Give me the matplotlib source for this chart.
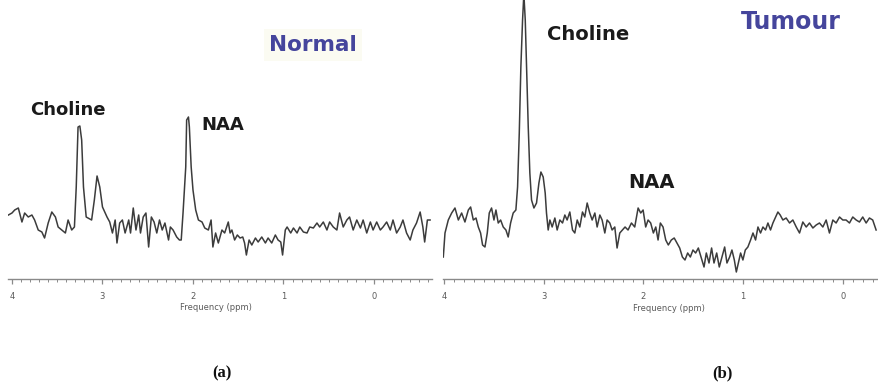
import matplotlib
matplotlib.use("Agg")
import matplotlib.pyplot as plt
from matplotlib.ticker import MultipleLocator

# ---------------- data ----------------
normal_ppm = [4.04, 4.00, 3.97, 3.93, 3.89, 3.86, 3.82, 3.78, 3.75, 3.71, 3.67, 3.64, 3.60, 3.56,
              3.52, 3.49, 3.45, 3.41, 3.38, 3.34, 3.31, 3.29, 3.27, 3.25, 3.23, 3.21, 3.18, 3.16,
              3.12, 3.09, 3.06, 3.03, 3.00, 2.97, 2.95, 2.92, 2.89, 2.86, 2.84, 2.81, 2.78, 2.75,
              2.71, 2.69, 2.66, 2.63, 2.60, 2.58, 2.55, 2.52, 2.49, 2.46, 2.43, 2.40, 2.37, 2.34,
              2.31, 2.27, 2.25, 2.22, 2.18, 2.15, 2.13, 2.11, 2.08, 2.07, 2.05, 2.04, 2.02, 2.00,
              1.97, 1.94, 1.90, 1.87, 1.83, 1.80, 1.78, 1.75, 1.72, 1.68, 1.65, 1.61, 1.59, 1.57,
              1.54, 1.51, 1.48, 1.45, 1.43, 1.41, 1.38, 1.35, 1.31, 1.28, 1.24, 1.20, 1.17, 1.13,
              1.09, 1.06, 1.03, 1.01, 0.98, 0.96, 0.92, 0.89, 0.85, 0.82, 0.78, 0.74, 0.71, 0.67,
              0.63, 0.60, 0.56, 0.52, 0.49, 0.45, 0.41, 0.38, 0.34, 0.30, 0.27, 0.23, 0.19, 0.15,
              0.12, 0.08, 0.04, 0.01, -0.03, -0.07, -0.10, -0.14, -0.18, -0.21, -0.25, -0.29,
              -0.32, -0.36, -0.40, -0.43, -0.47, -0.51, -0.54, -0.56, -0.59, -0.62]
normal_int = [64, 66, 69, 71, 57, 66, 62, 64, 59, 49, 47, 41, 56, 67,
              62, 52, 49, 46, 59, 49, 52, 92, 152, 153, 139, 92, 62, 61,
              59, 79, 103, 92, 72, 66, 62, 57, 46, 59, 36, 56, 59, 46,
              59, 46, 71, 49, 64, 46, 62, 66, 32, 62, 57, 46, 59, 49,
              56, 39, 52, 49, 42, 39, 39, 66, 112, 159, 162, 152, 112, 89,
              69, 59, 57, 51, 49, 59, 32, 46, 36, 49, 46, 57, 46, 49,
              39, 44, 41, 42, 36, 24, 39, 34, 41, 37, 42, 36, 41, 36,
              44, 39, 37, 24, 49, 52, 46, 51, 46, 52, 47, 46, 52, 51,
              56, 52, 57, 49, 57, 52, 49, 66, 52, 59, 62, 49, 59, 51,
              59, 46, 57, 49, 57, 49, 52, 57, 49, 59, 46, 52,
              59, 46, 39, 49, 56, 67, 52, 37, 59, 59]

tumour_ppm = [4.007, 3.99, 3.957, 3.923, 3.89, 3.856, 3.823, 3.79, 3.756, 3.733, 3.706, 3.679,
              3.656, 3.633, 3.613, 3.589, 3.566, 3.546, 3.523, 3.499, 3.479, 3.456, 3.432, 3.406,
              3.379, 3.356, 3.332, 3.306, 3.279, 3.262, 3.245, 3.229, 3.212, 3.199, 3.185, 3.172,
              3.155, 3.139, 3.122, 3.098, 3.072, 3.048, 3.028, 3.005, 2.985, 2.972, 2.955, 2.938,
              2.915, 2.888, 2.865, 2.838, 2.811, 2.788, 2.765, 2.738, 2.711, 2.688, 2.664, 2.638,
              2.611, 2.588, 2.564, 2.538, 2.514, 2.487, 2.464, 2.437, 2.414, 2.387, 2.364, 2.337,
              2.314, 2.287, 2.264, 2.237, 2.210, 2.184, 2.154, 2.120, 2.087, 2.053, 2.027, 2.003,
              1.977, 1.953, 1.927, 1.900, 1.876, 1.853, 1.830, 1.803, 1.776, 1.750, 1.720, 1.691,
              1.663, 1.636, 1.609, 1.583, 1.556, 1.529, 1.503, 1.476, 1.449, 1.419, 1.392, 1.369,
              1.342, 1.316, 1.292, 1.265, 1.239, 1.212, 1.185, 1.162, 1.135, 1.112, 1.088, 1.068,
              1.048, 1.025, 1.002, 0.978, 0.952, 0.925, 0.901, 0.875, 0.851, 0.825, 0.801, 0.775,
              0.751, 0.725, 0.701, 0.674, 0.651, 0.628, 0.601, 0.568, 0.534, 0.501, 0.467, 0.434,
              0.401, 0.367, 0.334, 0.300, 0.267, 0.234, 0.200, 0.167, 0.134, 0.100, 0.067, 0.033,
              0.000, -0.033, -0.067, -0.100, -0.134, -0.167, -0.200, -0.234, -0.267, -0.300, -0.334]
tumour_int = [22, 46, 59, 66, 71, 59, 66, 57, 69, 72, 59, 61,
              52, 46, 34, 32, 46, 66, 71, 59, 69, 56, 59, 52,
              49, 42, 56, 66, 69, 92, 146, 212, 259, 285, 259, 212,
              152, 106, 79, 71, 76, 96, 107, 102, 86, 66, 49, 59,
              52, 61, 49, 59, 56, 64, 59, 67, 49, 46, 59, 52,
              67, 62, 76, 66, 59, 66, 52, 64, 59, 46, 59, 56,
              49, 52, 31, 46, 49, 52, 49, 56, 52, 71, 66, 69,
              52, 59, 56, 46, 52, 39, 56, 52, 39, 34, 39, 41,
              36, 31, 22, 19, 26, 22, 29, 26, 31, 21, 12, 26,
              16, 31, 16, 26, 12, 22, 32, 16, 22, 29, 19, 7,
              16, 26, 19, 29, 32, 39, 46, 39, 52, 46, 52, 49,
              56, 49, 56, 62, 67, 64, 59, 61, 56, 59, 52, 46,
              57, 52, 56, 51, 54, 56, 52, 59, 46, 59, 56, 62,
              59, 59, 56, 62, 59, 57, 62, 56, 61, 59, 49]

tick_values = [4, 3, 2, 1, 0]
tick_labels = ["4", "3", "2", "1", "0"]

# ---------------- figure ----------------
fig = plt.figure(figsize=(8.79, 3.91), dpi=100)
W, H = 879.0, 391.0

line_color = "#3c3c3c"
axis_color = "#8a8a8a"
label_color = "#5a5a5a"
title_color = "#45459c"


def make_axes(x0, x1, xlim):
    ax = fig.add_axes([x0 / W, (H - 279) / H, (x1 - x0) / W, 279 / H])
    ax.set_xlim(*xlim)
    ax.set_ylim(0, 279)
    for s in ("top", "left", "right"):
        ax.spines[s].set_visible(False)
    ax.spines["bottom"].set_color(axis_color)
    ax.spines["bottom"].set_linewidth(1.0)
    ax.set_yticks([])
    ax.set_xticks(tick_values)
    ax.set_xticklabels(tick_labels)
    ax.xaxis.set_minor_locator(MultipleLocator(0.1))
    ax.tick_params(axis="x", which="major", direction="out", length=3.5, width=0.9,
                   color=axis_color, labelsize=6, labelcolor=label_color, pad=6)
    ax.tick_params(axis="x", which="minor", direction="out", length=2, width=0.7,
                   color=axis_color)
    ax.set_facecolor("none")
    return ax


ax1 = make_axes(8, 432, (4.044, -0.641))
ax1.plot(normal_ppm, normal_int, color=line_color, lw=1.1, clip_on=True)
ax1.set_xlabel("Frequency (ppm)", fontsize=6, color=label_color)
ax1.xaxis.set_label_coords(0.49, -0.085)

ax2 = make_axes(443, 878, (4.01, -0.353))
ax2.plot(tumour_ppm, tumour_int, color=line_color, lw=1.1, clip_on=True)
ax2.set_xlabel("Frequency (ppm)", fontsize=6, color=label_color)
ax2.xaxis.set_label_coords(0.52, -0.09)

# annotations (figure pixel positions)
def ftext(x, y, s, **kw):
    fig.text(x / W, 1 - y / H, s, ha="center", va="center", **kw)

ftext(68, 110, "Choline", fontsize=13, fontweight="bold", color="#1a1a1a", family="DejaVu Sans")
ftext(223, 125, "NAA", fontsize=13, fontweight="bold", color="#1a1a1a", family="DejaVu Sans")
ftext(313, 45, "Normal", fontsize=15.5, fontweight="bold", color=title_color, family="DejaVu Sans",
      bbox=dict(facecolor="#fbfbf2", edgecolor="none", pad=4))

ftext(588, 35, "Choline", fontsize=14, fontweight="bold", color="#1a1a1a", family="DejaVu Sans")
ftext(652, 182, "NAA", fontsize=14, fontweight="bold", color="#1a1a1a", family="DejaVu Sans")
ftext(791, 22, "Tumour", fontsize=17, fontweight="bold", color=title_color, family="DejaVu Sans")

ftext(222, 373, "(a)", fontsize=12, fontweight="bold", color="#111111", family="Liberation Serif")
ftext(722, 373, "(b)", fontsize=12, fontweight="bold", color="#111111", family="Liberation Serif")

fig.savefig("out.png", dpi=100, facecolor="white")
